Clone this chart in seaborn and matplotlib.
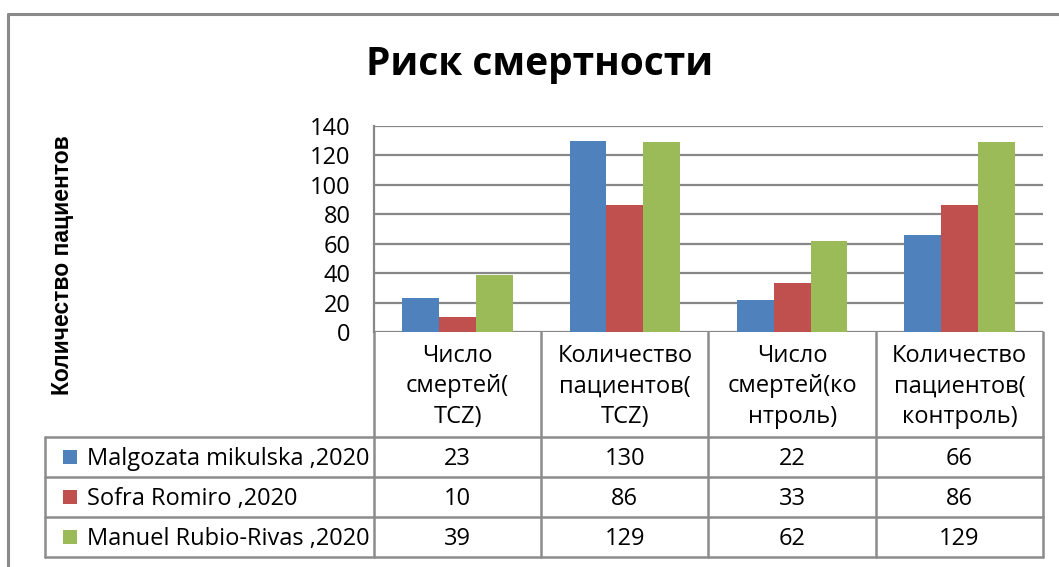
import numpy as np
import pandas as pd
import matplotlib
matplotlib.use("Agg")
import matplotlib.pyplot as plt
import matplotlib.transforms as mtransforms
from matplotlib.lines import Line2D
from matplotlib.patches import Rectangle
import seaborn as sns

# ---------------- data ----------------
title = "Риск смертности"
ylabel = "Количество пациентов"
categories = ["Число\nсмертей(\nTCZ)",
              "Количество\nпациентов(\nTCZ)",
              "Число\nсмертей(ко\nнтроль)",
              "Количество\nпациентов(\nконтроль)"]
series = ["Malgozata mikulska ,2020", "Sofra Romiro ,2020", "Manuel Rubio-Rivas ,2020"]
malgozata = [23, 130, 22, 66]
sofra = [10, 86, 33, 86]
manuel = [39, 129, 62, 129]
yticks = [0, 20, 40, 60, 80, 100, 120, 140]
colors = ["#4F81BD", "#C0504D", "#9BBB59"]

values = [malgozata, sofra, manuel]
df = pd.DataFrame({
    "cat": [c for _ in series for c in categories],
    "series": [s for s in series for _ in categories],
    "val": [v for vals in values for v in vals],
})

# ---------------- style ----------------
sns.set_theme(style="white")
plt.rcParams["font.family"] = ["Open Sans", "DejaVu Sans"]
GRID = "#878787"
TXT = "#000000"
FS = 17

W, H = 1059, 567
fig = plt.figure(figsize=(W / 100, H / 100), dpi=100)
fig.patch.set_facecolor("white")


def fx(px):
    return px / W


def fy(py):
    return 1 - py / H


L, R, T, B = 374, 1043, 126, 332
ax = fig.add_axes([fx(L), fy(B), fx(R) - fx(L), fy(T) - fy(B)])

sns.barplot(data=df, x="cat", y="val", hue="series", order=categories,
            hue_order=series, palette=colors, saturation=1, width=0.66,
            linewidth=0, ax=ax, legend=False)

ax.set_xlim(-0.5, len(categories) - 0.5)
ax.set_ylim(0, 140)
ax.set_yticks(yticks)
ax.set_yticklabels([str(t) for t in yticks], fontsize=FS, color=TXT)
ax.tick_params(axis="y", length=0, pad=17)
ax.set_xticks([])
ax.set_xlabel("")
ax.set_ylabel("")
ax.yaxis.grid(True, color=GRID, lw=1.6)
ax.set_axisbelow(True)
for s in ["top", "right", "bottom"]:
    ax.spines[s].set_visible(False)
ax.spines["left"].set_color(GRID)
ax.spines["left"].set_linewidth(1.6)

# ---------------- data table ----------------
trans = mtransforms.blended_transform_factory(ax.transData, ax.transAxes)
ncat = len(categories)


def dx(px):
    return -0.5 + (px - L) * ncat / (R - L)


def ay(py):
    return (B - py) / (B - T)


row_edges = [437, 477, 517, 557]
x_left = dx(45)
lc = "#8c8c8c"
lw = 1.8
# vertical lines
for i in range(ncat + 1):
    ax.add_line(Line2D([i - 0.5, i - 0.5], [0, ay(row_edges[-1])], color=lc, lw=lw,
                       transform=trans, clip_on=False))
ax.add_line(Line2D([x_left, x_left], [ay(row_edges[0]), ay(row_edges[-1])], color=lc, lw=lw,
                   transform=trans, clip_on=False))
for py in row_edges:
    ax.add_line(Line2D([x_left, ncat - 0.5], [ay(py), ay(py)], color=lc, lw=lw,
                       transform=trans, clip_on=False))

# header labels
for i, c in enumerate(categories):
    ax.text(i, ay((B + row_edges[0]) / 2 + 2), c, transform=trans, ha="center", va="center",
            fontsize=FS, color=TXT, linespacing=1.38, clip_on=False)

# rows
for r, (name, vals, col) in enumerate(zip(series, values, colors)):
    ymid = (row_edges[r] + row_edges[r + 1]) / 2
    yc = ay(ymid + 2)
    sq = 14
    ax.add_patch(Rectangle((dx(63), ay(ymid + sq / 2)), dx(63 + sq) - dx(63), sq / (B - T),
                           facecolor=col, edgecolor="none", transform=trans, clip_on=False))
    ax.text(dx(87), yc, name, transform=trans, ha="left", va="center", fontsize=FS,
            color=TXT, clip_on=False)
    for i, v in enumerate(vals):
        ax.text(i, yc, str(v), transform=trans, ha="center", va="center", fontsize=FS,
                color=TXT, clip_on=False)

# ---------------- titles ----------------
fig.text(fx(540), fy(65), title, ha="center", va="center", fontsize=28,
         fontweight="bold", color=TXT)
fig.text(fx(62), fy(265), ylabel, ha="center", va="center", rotation=90,
         fontsize=16.5, fontweight="bold", color=TXT, family=["Liberation Sans", "DejaVu Sans"])

# outer chart border
fig.add_artist(Line2D([fx(8), 1.0], [fy(14), fy(14)], color="#8a8a8a", lw=2.2,
                      transform=fig.transFigure))
fig.add_artist(Line2D([fx(8), fx(8)], [0.0, fy(14)], color="#8a8a8a", lw=2.2,
                      transform=fig.transFigure))

fig.savefig("out.png", dpi=100, facecolor="white")
